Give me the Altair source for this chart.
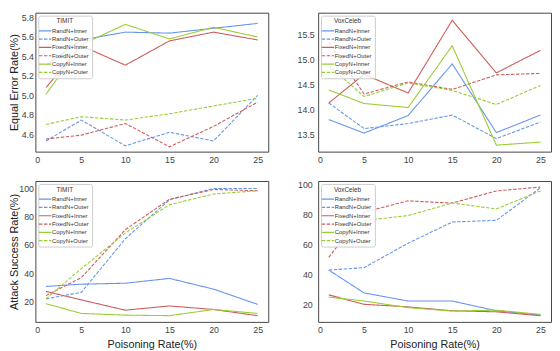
import altair as alt
import pandas as pd

x_vals = [1, 5, 10, 15, 20, 25]
series_names = ["RandN+Inner", "RandN+Outer", "FixedN+Inner", "FixedN+Outer", "CopyN+Inner", "CopyN+Outer"]
series_colors = ["#6495ED", "#6495ED", "#CD5C5C", "#CD5C5C", "#9ACD32", "#9ACD32"]
series_dashes = [[1, 0], [3.5, 1.6], [1, 0], [3.5, 1.6], [1, 0], [3.5, 1.6]]

# TIMIT - Equal Error Rate
timit_eer = [
    [5.31, 5.57, 5.65, 5.64, 5.69, 5.74],
    [4.53, 4.745, 4.48, 4.62, 4.53, 5.00],
    [5.08, 5.51, 5.31, 5.56, 5.65, 5.57],
    [4.55, 4.59, 4.71, 4.47, 4.68, 4.93],
    [5.01, 5.52, 5.73, 5.58, 5.70, 5.60],
    [4.70, 4.78, 4.745, 4.81, 4.89, 4.97],
]
# VoxCeleb - Equal Error Rate
vox_eer = [
    [13.80, 13.53, 13.88, 14.91, 13.54, 13.89],
    [14.13, 13.62, 13.72, 13.89, 13.42, 13.75],
    [14.13, 14.70, 14.33, 15.78, 14.73, 15.18],
    [15.35, 14.31, 14.55, 14.40, 14.69, 14.72],
    [14.39, 14.12, 14.04, 15.27, 13.29, 13.35],
    [14.88, 14.26, 14.53, 14.38, 14.10, 14.48],
]
# TIMIT - Attack Success Rate
timit_asr = [
    [30.6, 32.2, 32.9, 36.3, 28.7, 17.9],
    [21.8, 26.4, 64.4, 92.0, 100.0, 100.0],
    [27.1, 21.1, 13.8, 16.8, 14.3, 9.9],
    [24.1, 36.8, 70.8, 92.4, 99.3, 98.4],
    [18.4, 11.5, 10.3, 9.9, 14.3, 11.5],
    [21.8, 43.2, 68.5, 88.5, 96.1, 98.4],
]
# VoxCeleb - Attack Success Rate
vox_asr = [
    [43.0, 27.8, 22.4, 22.4, 15.9, 13.0],
    [43.0, 44.6, 60.9, 75.0, 76.1, 97.8],
    [26.5, 20.2, 18.5, 15.9, 15.2, 12.6],
    [51.5, 81.5, 89.1, 87.6, 95.7, 98.3],
    [25.0, 22.4, 18.0, 15.7, 16.3, 13.5],
    [63.0, 76.0, 79.3, 87.6, 83.7, 95.7],
]

x_ticks = [0, 5, 10, 15, 20, 25]
eer_timit_ticks = [4.6, 4.8, 5.0, 5.2, 5.4, 5.6, 5.8]
eer_vox_ticks = [13.5, 14.0, 14.5, 15.0, 15.5]
asr_ticks = [20, 40, 60, 80, 100]


def make_df(values):
    rows = []
    for name, ys in zip(series_names, values):
        for xv, yv in zip(x_vals, ys):
            rows.append({"x": xv, "y": yv, "series": name})
    return pd.DataFrame(rows)


def panel(values, legend_title, ydom, yticks, yfmt, ytitle, xtitle, w, h, ylabpad, yext):
    legend = alt.Legend(
        title=legend_title, orient="top-left", offset=3, padding=3,
        fillColor="rgba(255,255,255,0.8)", strokeColor="#cccccc", cornerRadius=2,
        symbolType="M-2,0H2", symbolSize=40, symbolStrokeWidth=1.2,
        labelFontSize=6, labelFont="Liberation Sans", labelColor="#333",
        titleFontSize=6.5, titleFont="Liberation Sans", titleFontWeight="normal",
        titleColor="#333", titleAnchor="middle", titlePadding=2,
        rowPadding=1.5, labelOffset=3,
    )
    return alt.Chart(make_df(values)).mark_line(strokeWidth=1.1, clip=True).encode(
        x=alt.X("x:Q", title=xtitle,
                scale=alt.Scale(domain=[-0.2, 26.2], nice=False, zero=False),
                axis=alt.Axis(values=x_ticks, labelPadding=4)),
        y=alt.Y("y:Q", title=ytitle,
                scale=alt.Scale(domain=ydom, nice=False, zero=False),
                axis=alt.Axis(values=yticks, format=yfmt, labelPadding=ylabpad,
                              minExtent=yext, maxExtent=yext, titlePadding=1)),
        color=alt.Color("series:N", sort=series_names,
                        scale=alt.Scale(domain=series_names, range=series_colors),
                        legend=legend),
        strokeDash=alt.StrokeDash("series:N", sort=series_names,
                                  scale=alt.Scale(domain=series_names, range=series_dashes),
                                  legend=legend),
    ).properties(width=w, height=h)


def indep(c):
    return c.resolve_scale(color="independent", strokeDash="independent").resolve_legend(
        color="independent", strokeDash="independent")


tl = panel(timit_eer, "TIMIT", [4.42, 5.85], eer_timit_ticks, ".1f", "Equal Error Rate(%)", None, 238, 142, 2, 15)
tr = panel(vox_eer, "VoxCeleb", [13.16, 15.93], eer_vox_ticks, ".1f", None, None, 238, 142, 4, 21)
bl = panel(timit_asr, "TIMIT", [5.5, 105.3], asr_ticks, "d", "Attack Success Rate(%)", "Poisoning Rate(%)", 238, 144, 2, 15)
br = panel(vox_asr, "VoxCeleb", [8.5, 102.3], asr_ticks, "d", None, "Poisoning Rate(%)", 238, 144, 6, 23)

top = indep(alt.hconcat(tl, tr, spacing=27))
bottom = indep(alt.hconcat(bl, br, spacing=26))

chart = indep(alt.vconcat(top, bottom, spacing=15)).properties(
    padding={"left": 0, "top": 0, "right": 0, "bottom": 0}
).configure_view(
    stroke="#444444", strokeWidth=1
).configure_axis(
    grid=False, domain=False, ticks=False,
    labelFont="Liberation Sans", labelFontSize=9, labelColor="#444444",
    titleFont="Liberation Sans Narrow, Liberation Sans", titleFontSize=11,
    titleFontWeight="normal", titleColor="#222222",
).configure_concat(spacing=15)

chart.save("out.html", embed_options={"renderer": "svg", "actions": False})
